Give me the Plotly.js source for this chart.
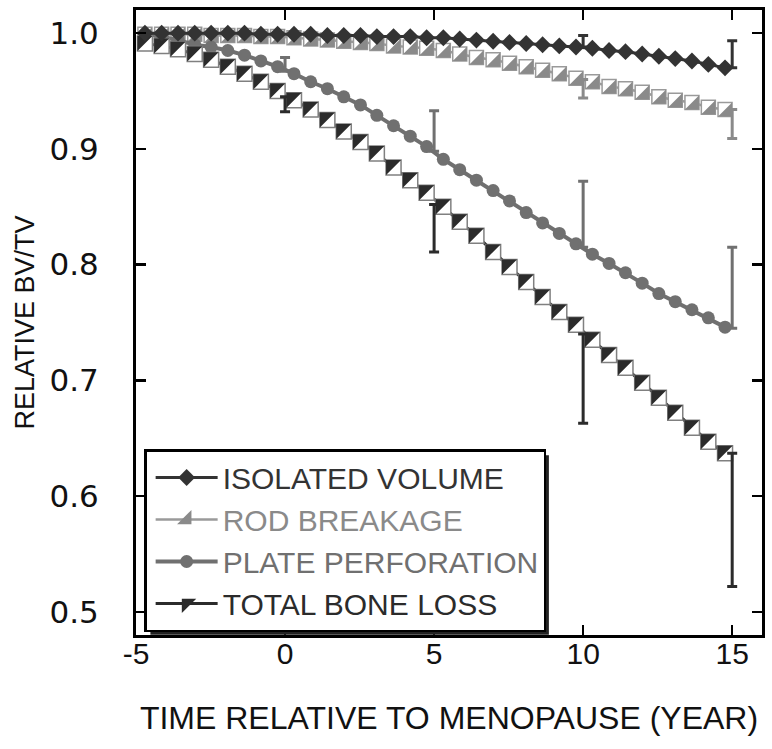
<!DOCTYPE html>
<html><head><meta charset="utf-8">
<script src="https://cdn.plot.ly/plotly-3.0.1.min.js"></script>
<style>body{margin:0;background:#fff}#chart{width:772px;height:749px}</style>
</head><body><div id="chart"></div>
<script>
// ---- data ----
const years = [-4.70, -4.14, -3.59, -3.03, -2.48, -1.92, -1.36, -0.81, -0.25, 0.30, 0.86, 1.42, 1.97, 2.53, 3.08, 3.64, 4.20, 4.75, 5.31, 5.86, 6.42, 6.98, 7.53, 8.09, 8.64, 9.20, 9.76, 10.31, 10.87, 11.42, 11.98, 12.54, 13.09, 13.65, 14.20, 14.76];
const isolatedVolume = [1.000, 1.000, 1.000, 1.000, 1.000, 1.000, 1.000, 0.999, 0.999, 0.999, 0.999, 0.998, 0.998, 0.998, 0.997, 0.997, 0.997, 0.996, 0.996, 0.995, 0.994, 0.993, 0.992, 0.991, 0.990, 0.989, 0.988, 0.987, 0.985, 0.984, 0.982, 0.980, 0.978, 0.976, 0.973, 0.970];
const rodBreakage = [0.999, 0.999, 0.999, 0.999, 0.998, 0.998, 0.998, 0.997, 0.997, 0.996, 0.995, 0.994, 0.993, 0.992, 0.991, 0.989, 0.988, 0.987, 0.985, 0.982, 0.979, 0.977, 0.974, 0.971, 0.968, 0.965, 0.961, 0.958, 0.954, 0.952, 0.949, 0.945, 0.942, 0.940, 0.936, 0.934];
const platePerforation = [0.999, 0.997, 0.994, 0.990, 0.988, 0.985, 0.981, 0.976, 0.971, 0.965, 0.958, 0.952, 0.945, 0.938, 0.929, 0.920, 0.911, 0.902, 0.891, 0.882, 0.873, 0.864, 0.855, 0.845, 0.836, 0.827, 0.818, 0.809, 0.801, 0.793, 0.784, 0.775, 0.768, 0.761, 0.754, 0.746];
const totalBoneLoss = [0.991, 0.989, 0.986, 0.982, 0.977, 0.971, 0.965, 0.958, 0.950, 0.942, 0.934, 0.925, 0.915, 0.906, 0.896, 0.884, 0.873, 0.862, 0.850, 0.837, 0.825, 0.811, 0.798, 0.785, 0.772, 0.759, 0.748, 0.735, 0.722, 0.711, 0.698, 0.685, 0.672, 0.659, 0.647, 0.637];

// error bars (one-sided): year, value at the curve, end of the bar
const isoErrYears = [10, 15];
const isoErrBase = [0.988, 0.970];
const isoErrEnd = [0.998, 0.9935];
const rodErrYears = [10, 15];
const rodErrBase = [0.960, 0.934];
const rodErrEnd = [0.944, 0.909];
const plateErrYears = [0, 5, 10, 15];
const plateErrBase = [0.967, 0.898, 0.815, 0.745];
const plateErrEnd = [0.979, 0.933, 0.872, 0.815];
const totalErrYears = [0, 5, 10, 15];
const totalErrBase = [0.945, 0.852, 0.740, 0.637];
const totalErrEnd = [0.932, 0.811, 0.663, 0.522];

const seriesNames = ['ISOLATED VOLUME', 'ROD BREAKAGE', 'PLATE PERFORATION', 'TOTAL BONE LOSS'];
const xTickVals = [-5, 0, 5, 10, 15];
const xTickText = ['-5', '0', '5', '10', '15'];
const yTickVals = [0.5, 0.6, 0.7, 0.8, 0.9, 1.0];
const yTickText = ['0.5', '0.6', '0.7', '0.8', '0.9', '1.0'];

// ---- styles ----
const C_ISO = '#333333', C_ROD = '#8a8a8a', C_ROD_EDGE = '#9a9a9a', C_PLATE = '#707070', C_TOT = '#2b2b2b', C_TOT_EDGE = '#808080';
const FONT = 'Liberation Sans, Arial, sans-serif';
const W = 772, H = 749, M = {l: 136, r: 10, t: 10, b: 114};
const X_RANGE = [-5, 16], Y_RANGE = [0.48, 1.02];
const ROD_SQ = 14, TOT_SQ = 15;            // square marker sides (px)
// plotly's corner triangles: legs = 0.9*size, right-angle corner sits side/6 inside the square
const triSize = side => side / 0.9;
const triShift = side => side / 6;
const xPerPx = (X_RANGE[1] - X_RANGE[0]) / (W - M.l - M.r);
const yPerPx = (Y_RANGE[1] - Y_RANGE[0]) / (H - M.t - M.b);

function errTrace(xs, base, end, color, xa, ya) {
  return {
    x: xs, y: base, type: 'scatter', mode: 'markers', xaxis: xa, yaxis: ya,
    marker: {size: 1, opacity: 0}, showlegend: false, hoverinfo: 'skip',
    error_y: {type: 'data', symmetric: false,
      array: base.map((b, i) => Math.max(end[i] - b, 0)),
      arrayminus: base.map((b, i) => Math.max(b - end[i], 0)),
      color: color, thickness: 3, width: 5}
  };
}
const span = (c, t) => '<span style="color:' + c + '">' + t + '</span>';

const traces = [
  // rod breakage: white square + gray lower-right half
  {x: years, y: rodBreakage, type: 'scatter', mode: 'lines+markers', showlegend: false, hoverinfo: 'skip',
   line: {color: C_ROD_EDGE, width: 2.5},
   marker: {symbol: 'square', size: ROD_SQ, color: '#ffffff', line: {color: C_ROD_EDGE, width: 1.5}}},
  errTrace(rodErrYears, rodErrBase, rodErrEnd, C_ROD, 'x', 'y'),
  {x: years, y: rodBreakage, type: 'scatter', mode: 'markers', showlegend: false, hoverinfo: 'skip', xaxis: 'x2', yaxis: 'y2',
   marker: {symbol: 'triangle-se', size: triSize(ROD_SQ), color: C_ROD, line: {width: 0}}},
  // plate perforation
  {x: years, y: platePerforation, type: 'scatter', mode: 'lines+markers', name: span('#707070', seriesNames[2]), legendrank: 3,
   xaxis: 'x3', yaxis: 'y3', line: {color: C_PLATE, width: 4},
   marker: {symbol: 'circle', size: 13, color: C_PLATE}},
  errTrace(plateErrYears, plateErrBase, plateErrEnd, C_PLATE, 'x3', 'y3'),
  // total bone loss: white square + dark upper-left half
  {x: years, y: totalBoneLoss, type: 'scatter', mode: 'lines+markers', showlegend: false, hoverinfo: 'skip',
   xaxis: 'x4', yaxis: 'y4', line: {color: C_TOT, width: 3},
   marker: {symbol: 'square', size: TOT_SQ, color: '#ffffff', line: {color: C_TOT_EDGE, width: 1.5}}},
  errTrace(totalErrYears, totalErrBase, totalErrEnd, C_TOT, 'x4', 'y4'),
  {x: years, y: totalBoneLoss, type: 'scatter', mode: 'markers', showlegend: false, hoverinfo: 'skip', xaxis: 'x5', yaxis: 'y5',
   marker: {symbol: 'triangle-nw', size: triSize(TOT_SQ), color: C_TOT, line: {width: 0}}},
  // isolated volume (top layer)
  {x: years, y: isolatedVolume, type: 'scatter', mode: 'lines+markers', name: span('#333333', seriesNames[0]), legendrank: 1,
   xaxis: 'x6', yaxis: 'y6', line: {color: C_ISO, width: 3},
   marker: {symbol: 'diamond', size: 13, color: C_ISO}},
  errTrace(isoErrYears, isoErrBase, isoErrEnd, C_ISO, 'x6', 'y6'),
  // legend-only entries for the two-tone square series
  {x: [null], y: [null], type: 'scatter', mode: 'lines+markers', name: span('#8a8a8a', seriesNames[1]), legendrank: 2,
   line: {color: C_ROD_EDGE, width: 2.5}, marker: {symbol: 'triangle-se', size: 16, color: C_ROD}},
  {x: [null], y: [null], type: 'scatter', mode: 'lines+markers', name: span('#2b2b2b', seriesNames[3]), legendrank: 4,
   line: {color: C_TOT, width: 3}, marker: {symbol: 'triangle-nw', size: 16, color: C_TOT}}
];

const axisCommon = {
  showline: true, linewidth: 3, linecolor: '#000', mirror: 'ticks',
  ticks: 'inside', ticklen: 10, tickwidth: 2.5, tickcolor: '#000',
  showgrid: false, zeroline: false, fixedrange: true
};
// hidden overlay axes with the same scale, moved by a few screen pixels (right / down positive)
function overlayX(rightPx) { return {overlaying: 'x', visible: false, fixedrange: true, range: [X_RANGE[0] - rightPx * xPerPx, X_RANGE[1] - rightPx * xPerPx]}; }
function overlayY(downPx) { return {overlaying: 'y', visible: false, fixedrange: true, range: [Y_RANGE[0] + downPx * yPerPx, Y_RANGE[1] + downPx * yPerPx]}; }

const layout = {
  width: W, height: H, margin: M,
  paper_bgcolor: '#fff', plot_bgcolor: '#fff',
  font: {family: FONT, color: '#111'},
  xaxis: Object.assign({}, axisCommon, {
    range: X_RANGE, tickmode: 'array', tickvals: xTickVals, ticktext: xTickText,
    tickfont: {family: FONT, size: 30, color: '#111'}, ticklabelstandoff: -10,
    title: {text: 'TIME RELATIVE TO MENOPAUSE (YEAR)', font: {family: FONT, size: 32, color: '#111'}, standoff: 38}
  }),
  yaxis: Object.assign({}, axisCommon, {
    range: Y_RANGE, tickmode: 'array', tickvals: yTickVals, ticktext: yTickText,
    tickfont: {family: 'DejaVu Sans, sans-serif', size: 31, color: '#111'}, ticklabelstandoff: 28,
    title: {text: 'RELATIVE BV/TV', font: {family: FONT, size: 27, color: '#111'}, standoff: 8}
  }),
  xaxis2: overlayX(triShift(ROD_SQ)), yaxis2: overlayY(triShift(ROD_SQ)),
  xaxis3: overlayX(0), yaxis3: overlayY(0),
  xaxis4: overlayX(0), yaxis4: overlayY(0),
  xaxis5: overlayX(-triShift(TOT_SQ)), yaxis5: overlayY(-triShift(TOT_SQ)),
  xaxis6: overlayX(0), yaxis6: overlayY(0),
  legend: {
    x: 0.013, y: 0.2976, xanchor: 'left', yanchor: 'top',
    bgcolor: '#fff', bordercolor: '#000', borderwidth: 2.5,
    font: {family: FONT, size: 30, color: '#333'},
    itemwidth: 62, indentation: 4, tracegroupgap: 0
  },
  showlegend: true
};

Plotly.newPlot('chart', traces, layout, {displayModeBar: false, staticPlot: true}).then(gd => {
  const bg = gd.querySelector('.legend .bg');
  if (!bg) return;
  const r = bg.getBoundingClientRect();
  const host = gd.getBoundingClientRect();
  const s = gd._fullLayout._size;
  const px = v => (v - host.left - s.l) / s.w;
  const py = v => 1 - (v - host.top - s.t) / s.h;
  return Plotly.relayout(gd, {shapes: [{
    type: 'rect', xref: 'paper', yref: 'paper', layer: 'above',
    x0: px(r.left + 5), x1: px(r.right + 4), y0: py(r.bottom + 4), y1: py(r.top + 5),
    fillcolor: '#222', line: {width: 0}
  }]});
});
</script>
</body></html>
